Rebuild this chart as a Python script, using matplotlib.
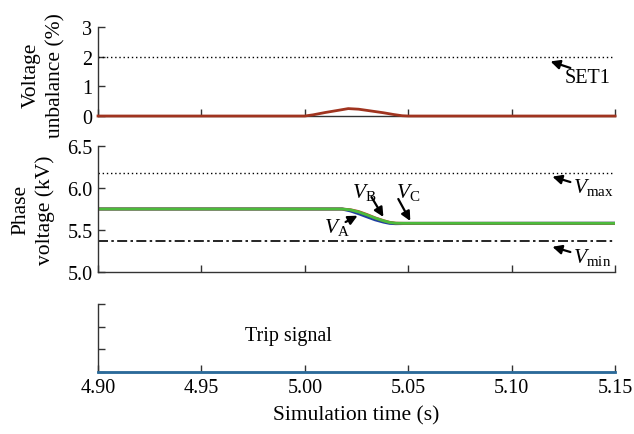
import matplotlib
matplotlib.use("Agg")
import matplotlib.pyplot as plt

plt.rcParams['font.family'] = ['Liberation Serif', 'DejaVu Serif']
plt.rcParams['mathtext.fontset'] = 'custom'
plt.rcParams['mathtext.rm'] = 'Liberation Serif'
plt.rcParams['mathtext.it'] = 'Liberation Serif:italic'

# ---- data ----
xticks = [4.90, 4.95, 5.00, 5.05, 5.10, 5.15]
xtick_labels = ["4.90", "4.95", "5.00", "5.05", "5.10", "5.15"]

unb_t = [4.90, 5.000, 5.004, 5.010, 5.016, 5.021, 5.026, 5.032, 5.038, 5.043, 5.047, 5.050, 5.15]
unb_v = [0.0, 0.0, 0.04, 0.12, 0.19, 0.25, 0.23, 0.17, 0.11, 0.05, 0.01, 0.0, 0.0]
set1_level = 2.0

v_t = [4.90, 5.018, 5.022, 5.026, 5.030, 5.034, 5.038, 5.041, 5.044, 5.048, 5.15]
va = [5.75, 5.75, 5.728, 5.695, 5.658, 5.622, 5.595, 5.580, 5.576, 5.578, 5.58]
vb = [5.75, 5.75, 5.742, 5.72, 5.685, 5.645, 5.612, 5.592, 5.582, 5.58, 5.58]
vc = [5.75, 5.75, 5.74, 5.715, 5.68, 5.642, 5.61, 5.59, 5.581, 5.58, 5.58]
vmax_level = 6.18
vmin_level = 5.37

trip_t = [4.90, 5.15]
trip_v = [0.0, 0.0]

# ---- figure ----
fig = plt.figure(figsize=(6.34, 4.35), dpi=100)
L, W = 0.1546, 0.8155
ax1 = fig.add_axes([L, 0.731, W, 0.2046])
ax2 = fig.add_axes([L, 0.3724, W, 0.2897])
ax3 = fig.add_axes([L, 0.1425, W, 0.1563])

spine_col = '#333333'
for ax in (ax1, ax2, ax3):
    ax.set_xlim(4.90, 5.15)
    ax.set_xticks(xticks)
    for s in ('top', 'right'):
        ax.spines[s].set_visible(False)
    for s in ('left', 'bottom'):
        ax.spines[s].set_color(spine_col)
        ax.spines[s].set_linewidth(1.0)
    ax.tick_params(direction='in', length=5, width=1, color=spine_col,
                   labelsize=14.5, pad=4)

ax1.set_xticklabels([])
ax2.set_xticklabels([])
ax3.set_xticklabels(xtick_labels)

arrow = dict(arrowstyle='-|>,head_length=0.55,head_width=0.27',
             color='black', lw=1.6, shrinkA=0, shrinkB=0)

# top: voltage unbalance
ax1.set_ylim(0, 3)
ax1.set_yticks([0, 1, 2, 3])
ax1.axhline(set1_level, color='black', linestyle=(0, (1, 2)), linewidth=1)
ax1.plot(unb_t, unb_v, color='#a0341f', linewidth=2, zorder=3, clip_on=False)
ax1.set_ylabel('Voltage\nunbalance (%)', fontsize=15.5, linespacing=1.4)
ax1.yaxis.set_label_coords(-0.062, 0.47)
ax1.text(5.1365, 1.31, 'SET1', fontsize=14.5, ha='center', va='center')
ax1.annotate('', xy=(5.1188, 1.84), xytext=(5.1284, 1.62), arrowprops=arrow)

# middle: phase voltages
ax2.set_ylim(5.0, 6.5)
ax2.set_yticks([5.0, 5.5, 6.0, 6.5])
ax2.set_yticklabels(['5.0', '5.5', '6.0', '6.5'])
ax2.axhline(vmax_level, color='black', linestyle=(0, (1, 2)), linewidth=1)
ax2.axhline(vmin_level, color='black', linestyle=(0, (6, 2, 1.5, 2)), linewidth=1.2)
ax2.plot(v_t, va, color='#1f3fa0', linewidth=2.2)
ax2.plot(v_t, vb, color='#c0392b', linewidth=2.0)
ax2.plot(v_t, vc, color='#4cbb3c', linewidth=2.0)
ax2.set_ylabel('Phase\nvoltage (kV)', fontsize=15.5, linespacing=1.3)
ax2.yaxis.set_label_coords(-0.084, 0.5)

ax2.text(5.1298, 6.02, r'$\mathit{V}_{\mathrm{max}}$', fontsize=15.5, ha='left', va='center')
ax2.annotate('', xy=(5.1197, 6.135), xytext=(5.1284, 6.071), arrowprops=arrow)
ax2.text(5.1298, 5.19, r'$\mathit{V}_{\mathrm{min}}$', fontsize=15.5, ha='left', va='center')
ax2.annotate('', xy=(5.1197, 5.30), xytext=(5.1284, 5.238), arrowprops=arrow)
ax2.text(5.0091, 5.545, r'$\mathit{V}_{\mathrm{A}}$', fontsize=15.5, ha='left', va='center')
ax2.annotate('', xy=(5.0255, 5.67), xytext=(5.0197, 5.595), arrowprops=arrow)
ax2.text(5.0226, 5.96, r'$\mathit{V}_{\mathrm{B}}$', fontsize=15.5, ha='left', va='center')
ax2.annotate('', xy=(5.038, 5.655), xytext=(5.0322, 5.893), arrowprops=arrow)
ax2.text(5.0442, 5.96, r'$\mathit{V}_{\mathrm{C}}$', fontsize=15.5, ha='left', va='center')
ax2.annotate('', xy=(5.051, 5.607), xytext=(5.0452, 5.869), arrowprops=arrow)

# bottom: trip signal
ax3.set_ylim(0, 1.5)
ax3.set_yticks([0, 0.5, 1.0, 1.5])
ax3.set_yticklabels([])
ax3.plot(trip_t, trip_v, color='#2a6a9a', linewidth=2, clip_on=False, zorder=3)
ax3.text(4.992, 0.80, 'Trip signal', fontsize=14.5, ha='center', va='center')
ax3.set_xlabel('Simulation time (s)', fontsize=15.5, labelpad=6)

fig.savefig('out.png', dpi=100)
